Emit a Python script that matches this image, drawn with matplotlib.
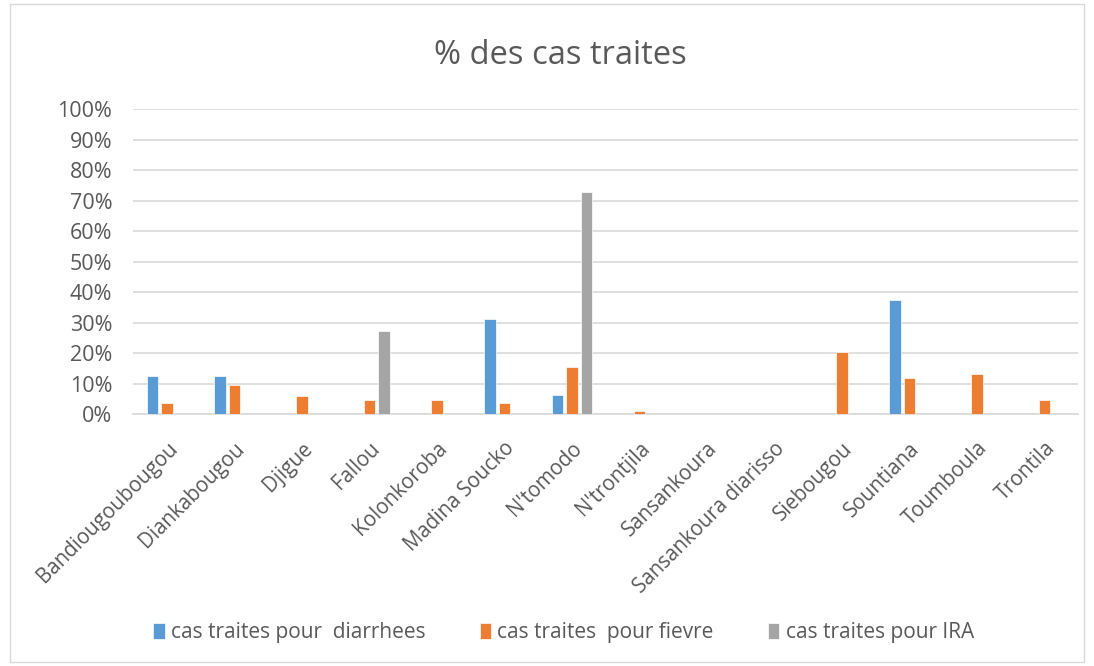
import numpy as np
import matplotlib.pyplot as plt
from matplotlib.patches import Rectangle

plt.rcParams['font.family'] = ['Open Sans', 'DejaVu Sans']

villages = ['Bandiougoubougou', 'Diankabougou', 'Djigue', 'Fallou', 'Kolonkoroba',
            'Madina Soucko', "N'tomodo", "N'trontjila", 'Sansankoura',
            'Sansankoura diarisso', 'Siebougou', 'Sountiana', 'Toumboula', 'Trontila']
diarrhees = [0.125, 0.125, 0, 0, 0, 0.3125, 0.0625, 0, 0, 0, 0, 0.375, 0, 0]
fievre = [0.037, 0.096, 0.059, 0.047, 0.047, 0.037, 0.156, 0.011, 0, 0, 0.205, 0.12, 0.131, 0.047]
ira = [0, 0, 0, 0.273, 0, 0, 0.727, 0, 0, 0, 0, 0, 0, 0]

series = [('cas traites pour  diarrhees', diarrhees, '#5B9BD5'),
          ('cas traites  pour fievre', fievre, '#ED7D31'),
          ('cas traites pour IRA', ira, '#A5A5A5')]

fig = plt.figure(figsize=(10.94, 6.66), dpi=100)
ax = fig.add_axes([0.1216, 0.378, 0.8638, 0.458])

x = np.arange(len(villages))
width = 0.17
step = 0.215
for i, (name, vals, col) in enumerate(series):
    ax.bar(x + (i - 1) * step, vals, width, color=col, label=name,
           edgecolor='white', linewidth=0.5, zorder=3)

ax.set_xlim(-0.5, len(villages) - 0.5)
ax.set_ylim(0, 1.0)
ax.set_yticks(np.arange(0, 1.01, 0.1))
ax.set_yticklabels([f'{int(round(v * 100))}%' for v in np.arange(0, 1.01, 0.1)],
                   fontsize=15.5, color='#595959')
ax.set_xticks(x)
ax.set_xticklabels(villages, rotation=45, ha='right', rotation_mode='anchor',
                   fontsize=14.8, color='#595959')
ax.tick_params(axis='y', length=0, pad=15)
ax.tick_params(axis='x', length=0, pad=17)

ax.grid(axis='y', color='#D9D9D9', linewidth=1.2, zorder=0)
for s in ['top', 'right', 'left']:
    ax.spines[s].set_visible(False)
ax.spines['bottom'].set_color('#D9D9D9')
ax.spines['bottom'].set_linewidth(1.2)

fig.text(0.512, 0.916, '% des cas traites', ha='center', va='center',
         fontsize=23.5, color='#595959')

fig.legend(loc='center', bbox_to_anchor=(0.515, 0.05), ncol=3, frameon=False,
           fontsize=15, handlelength=0.55, handleheight=0.8, handletextpad=0.3,
           columnspacing=2.6, labelcolor='#595959')

fig.patches.append(Rectangle((0.009, 0.006), 0.982, 0.988, transform=fig.transFigure,
                             fill=False, edgecolor='#D9D9D9', linewidth=1))

plt.savefig('out.png', dpi=100)
plt.close()
